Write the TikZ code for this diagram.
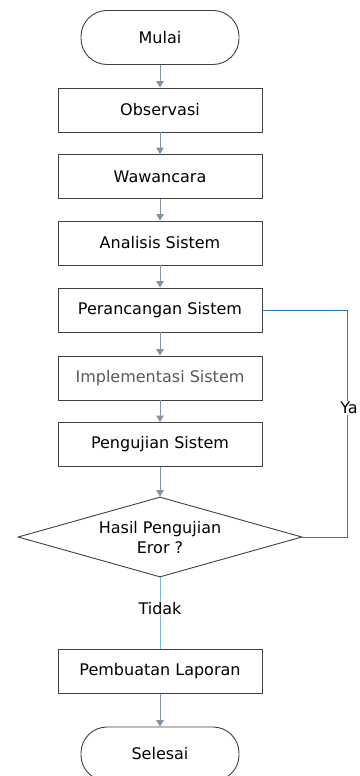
\documentclass[tikz,border=0pt]{standalone}
\usepackage{fontspec}
\setmainfont{DejaVu Sans}
\usetikzlibrary{shapes.geometric,arrows.meta}
\definecolor{arrowc}{HTML}{7F93A8}
\definecolor{yac}{HTML}{2E7BBA}
\definecolor{tidakc}{HTML}{7DB8DC}
\definecolor{borderc}{HTML}{404040}
\begin{document}
\begin{tikzpicture}[x=1pt,y=-1pt,
  every node/.style={font=\fontsize{16}{20}\selectfont},
  procbox/.style={draw=borderc, line width=0.9pt, minimum width=204pt, minimum height=44pt, inner sep=0pt, fill=white},
  term/.style={draw=borderc, line width=0.9pt, minimum width=158pt, minimum height=54pt, rounded corners=26pt, inner sep=0pt},
  decision/.style={draw=borderc, line width=0.9pt, diamond, aspect=3.55, minimum width=284pt, minimum height=80pt, inner sep=0pt},
  dectext/.style={align=center, inner sep=0pt},
  flow/.style={draw=arrowc, line width=0.9pt, -{Triangle[length=6.5pt,width=7.5pt]}},
  lbl/.style={fill=white, inner sep=1pt}
]
\useasboundingbox (0,0) rectangle (359,776);
\begin{scope}
\clip (0,0) rectangle (359,776);
\node[term] (mulai) at (160,37.5) {Mulai};
\node[procbox] (obs) at (160,110) {Observasi};
\node[procbox] (waw) at (160,176.5) {Wawancara};
\node[procbox] (ana) at (160,243) {Analisis Sistem};
\node[procbox] (per) at (160,310) {Perancangan Sistem};
\node[procbox, text=black!65] (imp) at (160,378) {Implementasi Sistem};
\node[procbox] (uji) at (160,444.5) {Pengujian Sistem};
\node[decision] (hasil) at (160,537) {};
\node[dectext] (hasilt) at (160,538) {Hasil Pengujian\\Eror ?};
\node[procbox] (lap) at (160,671.5) {Pembuatan Laporan};
\node[term] (sel) at (160,754) {Selesai};
\coordinate (ya1) at (347,310);
\coordinate (ya2) at (347,537);

\draw[flow] (mulai) -- (obs);
\draw[flow] (obs) -- (waw);
\draw[flow] (waw) -- (ana);
\draw[flow] (ana) -- (per);
\draw[flow] (per) -- (imp);
\draw[flow] (imp) -- (uji);
\draw[flow] (uji) -- (hasil);
\draw[draw=tidakc, line width=0.9pt] (hasil.south) -- node[lbl, pos=0.43] {Tidak} (lap.north);
\draw[flow] (lap) -- (sel);
\draw[draw=yac, line width=0.9pt] (per.east) -- (ya1) -- node[lbl, pos=0.43, xshift=2pt] {Ya} (ya2) -- (hasil.east);
\end{scope}
\end{tikzpicture}
\end{document}
